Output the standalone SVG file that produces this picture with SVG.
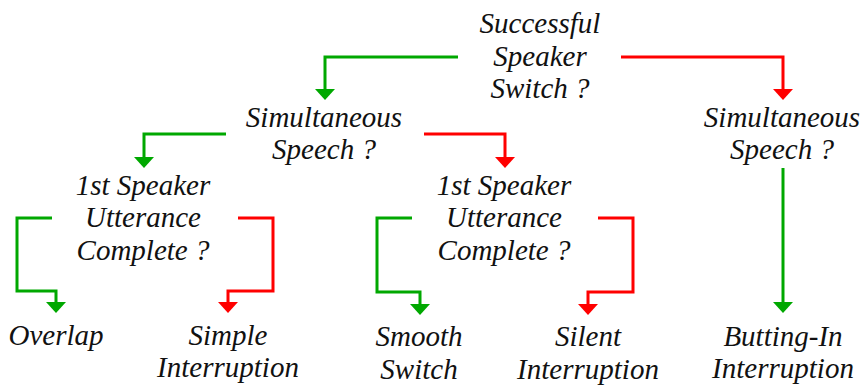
<svg xmlns="http://www.w3.org/2000/svg" width="864" height="385" viewBox="0 0 864 385">
  <style>
    text { font-family: "Liberation Serif", "Times New Roman", serif; font-style: italic; font-size: 29px; fill: #111; text-anchor: middle; }
    .yes { fill: none; stroke: #00A800; stroke-width: 3; stroke-linejoin: miter; marker-end: url(#headYes); }
    .no { fill: none; stroke: #FF0000; stroke-width: 3; stroke-linejoin: miter; marker-end: url(#headNo); }
  </style>
  <defs>
    <marker id="headYes" markerUnits="userSpaceOnUse" viewBox="0 -11 12 22" refX="0" refY="0" markerWidth="12" markerHeight="22" orient="auto" overflow="visible">
      <path d="M0,-10 L11,0 L0,10 z" fill="#00A800"/>
    </marker>
    <marker id="headNo" markerUnits="userSpaceOnUse" viewBox="0 -11 12 22" refX="0" refY="0" markerWidth="12" markerHeight="22" orient="auto" overflow="visible">
      <path d="M0,-10 L11,0 L0,10 z" fill="#FF0000"/>
    </marker>
  </defs>

  <!-- decision and outcome nodes -->
  <g id="switch">
    <text x="540" y="33">Successful</text>
    <text x="540" y="65.5">Speaker</text>
    <text x="540" y="98">Switch ?</text>
  </g>
  <g id="simultaneous-left">
    <text x="324" y="127">Simultaneous</text>
    <text x="324" y="159">Speech ?</text>
  </g>
  <g id="simultaneous-right">
    <text x="782" y="127">Simultaneous</text>
    <text x="782" y="159">Speech ?</text>
  </g>
  <g id="complete-left">
    <text x="143" y="195">1st Speaker</text>
    <text x="143" y="227">Utterance</text>
    <text x="143" y="260">Complete ?</text>
  </g>
  <g id="complete-mid">
    <text x="504" y="195">1st Speaker</text>
    <text x="504" y="227">Utterance</text>
    <text x="504" y="260">Complete ?</text>
  </g>
  <g id="overlap">
    <text x="56" y="345">Overlap</text>
  </g>
  <g id="simple-interruption">
    <text x="228" y="345">Simple</text>
    <text x="228" y="377">Interruption</text>
  </g>
  <g id="smooth-switch">
    <text x="419" y="346">Smooth</text>
    <text x="419" y="379">Switch</text>
  </g>
  <g id="silent-interruption">
    <text x="588" y="346">Silent</text>
    <text x="588" y="379">Interruption</text>
  </g>
  <g id="butting-in">
    <text x="783" y="346">Butting-In</text>
    <text x="783" y="378">Interruption</text>
  </g>

  <!-- yes (green) / no (red) branches -->
  <g id="connectors">
    <path class="yes" d="M458,57 H325 V89"/>
    <path class="no" d="M621,57 H783 V89"/>
    <path class="yes" d="M226,134 H144 V157"/>
    <path class="no" d="M424,134 H505 V157"/>
    <path class="yes" d="M52,218 H17 V291 H56 V302"/>
    <path class="no" d="M238,218 H273 V291 H228 V302"/>
    <path class="yes" d="M412,218 H377 V292 H420 V304"/>
    <path class="no" d="M598,218 H633 V292 H588 V304"/>
    <path class="yes" d="M783,168 V302"/>
  </g>
</svg>
